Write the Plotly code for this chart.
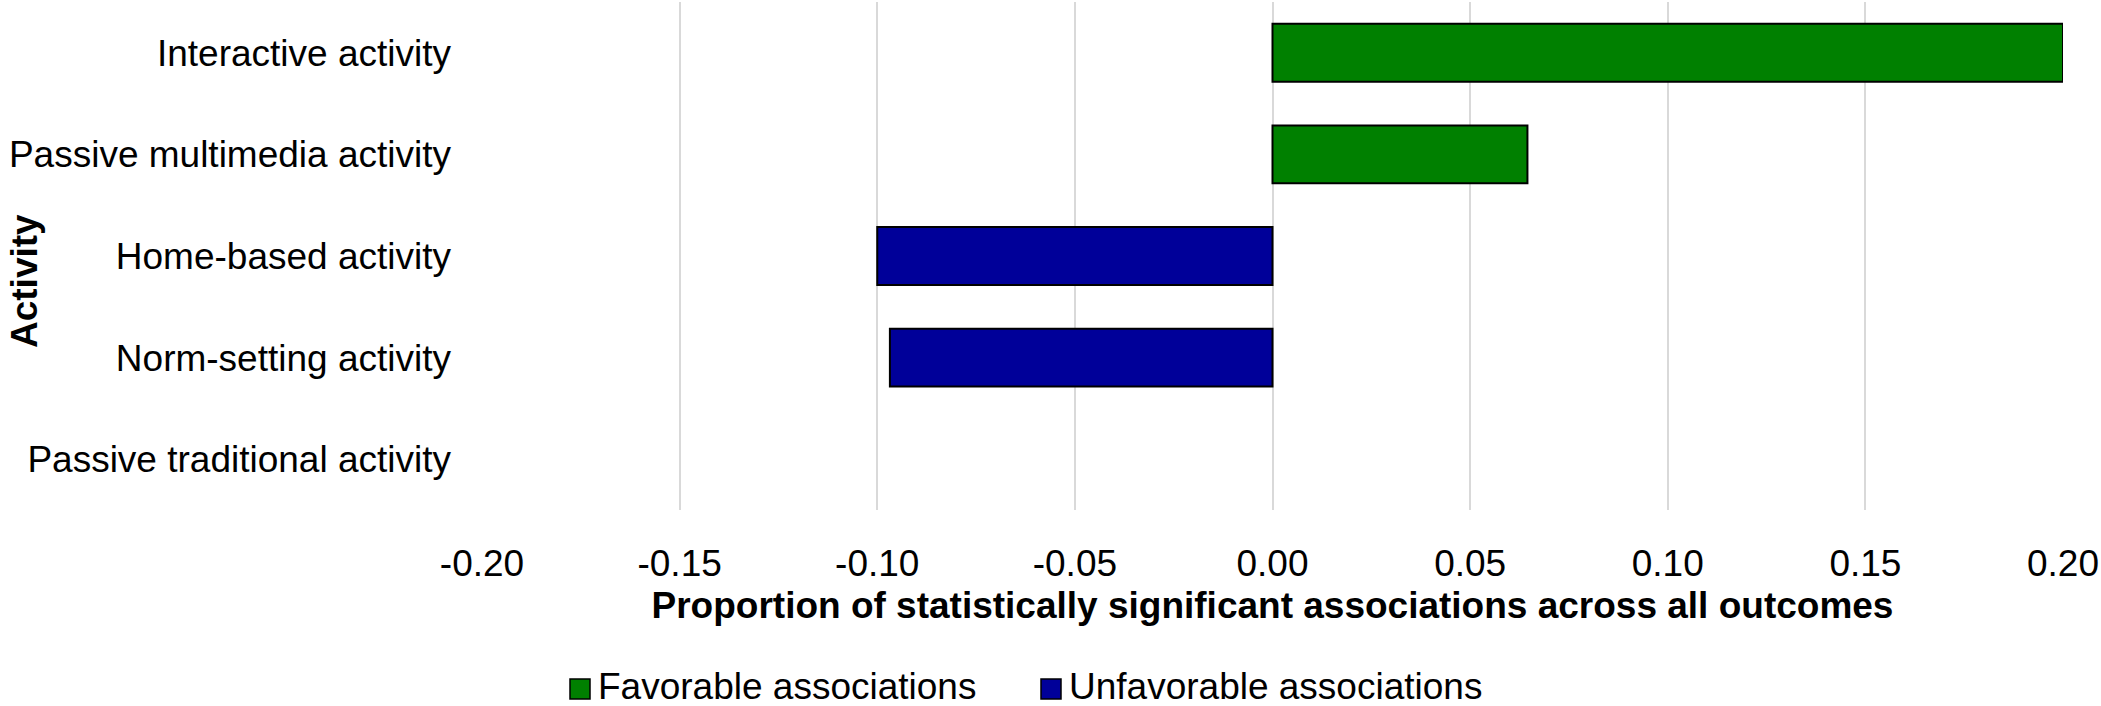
import plotly.graph_objects as go

# Activities, top to bottom
activities = [
    "Interactive activity",
    "Passive multimedia activity",
    "Home-based activity",
    "Norm-setting activity",
    "Passive traditional activity",
]
# Proportion of statistically significant associations
favorable = [0.20, 0.0645, 0, 0, 0]
unfavorable = [0, 0, -0.100, -0.0968, 0]
x_ticks = [-0.20, -0.15, -0.10, -0.05, 0.00, 0.05, 0.10, 0.15, 0.20]

GREEN = "#008000"
BLUE = "#000099"
FONT = "Liberation Sans, Arial, sans-serif"
W, H = 2101, 706
ML, MR, MT, MB = 482, 38, 2, 196


def px_x(p):
    return (p - ML) / (W - ML - MR)


def px_y(p):
    return (H - MB - p) / (H - MT - MB)


fig = go.Figure()
fig.add_trace(go.Bar(
    y=activities, x=[v if v else None for v in favorable], orientation="h",
    name="Favorable associations", marker=dict(color=GREEN, line=dict(color="black", width=2)),
    showlegend=False,
))
fig.add_trace(go.Bar(
    y=activities, x=[v if v else None for v in unfavorable], orientation="h",
    name="Unfavorable associations", marker=dict(color=BLUE, line=dict(color="black", width=2)),
    showlegend=False,
))

# Legend drawn as swatches with labels below the axis title
legend_items = [("Favorable associations", GREEN, 570), ("Unfavorable associations", BLUE, 1041)]
shapes, annotations = [], []
for label, color, x0 in legend_items:
    shapes.append(dict(
        type="rect", xref="paper", yref="paper",
        x0=px_x(x0), x1=px_x(x0 + 20), y0=px_y(699), y1=px_y(679),
        fillcolor=color, line=dict(color="black", width=1.5),
    ))
    annotations.append(dict(
        text=label, xref="paper", yref="paper", x=px_x(x0 + 26), y=px_y(686),
        xanchor="left", yanchor="middle", height=38, valign="middle", showarrow=False,
        font=dict(family=FONT, size=37, color="black"),
    ))

annotations.append(dict(
    text="<b>Activity</b>", xref="paper", yref="paper", x=px_x(24), y=px_y(281),
    xanchor="center", yanchor="middle", textangle=-90, showarrow=False,
    font=dict(family=FONT, size=37, color="black"),
))

fig.update_layout(
    width=W, height=H,
    margin=dict(l=ML, r=MR, t=MT, b=MB, autoexpand=False),
    barmode="relative", bargap=0.43,
    plot_bgcolor="white", paper_bgcolor="white",
    font=dict(family=FONT, size=37, color="black"),
    shapes=shapes, annotations=annotations,
)
fig.update_xaxes(
    range=[-0.2, 0.2], tickvals=x_ticks, ticktext=[f"{v:.2f}" for v in x_ticks],
    showgrid=True, gridcolor="#d9d9d9", gridwidth=2, zeroline=False, showline=False,
    ticks="", ticklabelstandoff=28, tickfont=dict(size=37),
    title=dict(text="<b>Proportion of statistically significant associations across all outcomes</b>",
               font=dict(size=37), standoff=9),
    automargin=False,
)
fig.update_yaxes(
    autorange="reversed", showgrid=False, zeroline=False, showline=False,
    ticks="", ticklabelstandoff=30, tickfont=dict(size=37), automargin=False,
)

fig.write_html("out.html")
